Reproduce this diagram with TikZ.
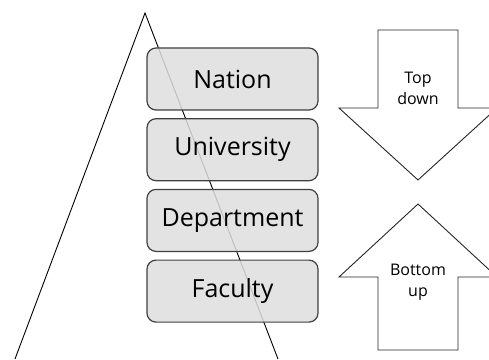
\documentclass[tikz,border=0pt]{standalone}
\usepackage{fontspec}
\setmainfont{Open Sans}
\usetikzlibrary{positioning}

\begin{document}
\begin{tikzpicture}[x=1pt,y=1pt]
\tikzstyle{level}=[draw=black!75,line width=1.2pt,fill=black!13,fill opacity=0.85,text opacity=1,rounded corners=9pt,minimum width=171pt,minimum height=62pt,font=\fontsize{25}{28}\selectfont];
\tikzstyle{bigarrow}=[draw=black!85,line width=0.9pt,fill=white];
\tikzstyle{label}=[align=center,font=\fontsize{16}{21}\selectfont];
\clip (0,0) rectangle (489,359);
% pyramid
\coordinate (apex) at (145,346);
\coordinate (left) at (15,0);
\coordinate (right) at (278,0);
\draw[line width=0.9pt] (left) -- (apex) -- (right);
% levels
\node[level] (nation) at (232.5,280) {Nation};
\node[level,below=7.5pt of nation] (university) {University};
\node[level,below=7.5pt of university] (department) {Department};
\node[level,below=7.5pt of department] (faculty) {Faculty};
% arrows
\draw[bigarrow] (378,329) -- (458,329) -- (458,251) -- (497,251) -- (418,179)
	-- (339,251) -- (378,251) -- cycle;
\draw[bigarrow] (378,9) -- (458,9) -- (458,82) -- (497,82) -- (418,155)
	-- (339,82) -- (378,82) -- cycle;
\node[label] (topdown) at (418,270.5) {Top\\down};
\node[label] (bottomup) at (418,77) {Bottom\\up};
\end{tikzpicture}
\end{document}
